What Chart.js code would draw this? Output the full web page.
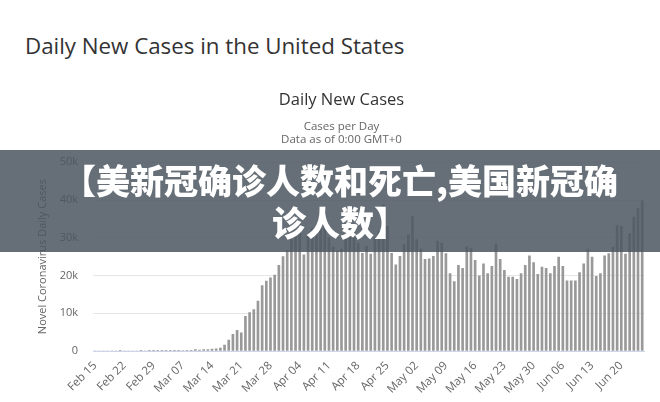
<!DOCTYPE html>
<html>
<head>
<meta charset="utf-8">
<script src="https://cdn.jsdelivr.net/npm/chart.js@4.4.0/dist/chart.umd.min.js"></script>
<style>
  body { margin: 0; width: 660px; height: 402px; overflow: hidden; position: relative; background: #fff; font-family: "Open Sans", sans-serif; }
  #pageTitle { position: absolute; left: 25px; top: 31px; font-size: 22.3px; line-height: 30px; color: #333; white-space: nowrap; }
  #wrap { position: absolute; left: 0; top: 80px; width: 660px; height: 322px; }
  #banner { position: absolute; left: 0; top: 150px; width: 660px; height: 102px; background: rgba(75, 86, 95, 0.85);
            box-sizing: border-box; padding: 9px 0 0 20px; text-align: center; color: #fff; white-space: nowrap;
            font-family: "Noto Sans CJK SC", sans-serif; font-weight: 900; font-size: 34px; line-height: 42px; }
</style>
</head>
<body>
<div id="pageTitle">Daily New Cases in the United States</div>
<div id="wrap"><canvas id="dailyCases"></canvas></div>
<div id="banner">【美新冠确诊人数和死亡,美国新冠确<br>诊人数】</div>

<script>
// ticks shown on the x axis (one every week)
var tickLabels = ["Feb 15", "Feb 22", "Feb 29", "Mar 07", "Mar 14", "Mar 21", "Mar 28", "Apr 04", "Apr 11",
                  "Apr 18", "Apr 25", "May 02", "May 09", "May 16", "May 23", "May 30", "Jun 06", "Jun 13", "Jun 20"];
var yTicks = [0, 10000, 20000, 30000, 40000, 50000];

// daily new cases, Feb 15 .. Jun 25
var febCases = [0, 0, 0, 0, 0, 0, 2, 0, 0, 0, 0, 1, 0, 2, 8];
var marCases = [7, 23, 20, 31, 68, 45, 140, 116, 65, 378, 270, 350, 400, 500, 600, 800,
                1600, 2900, 4400, 5500, 4800, 9200, 10200, 11000, 13200, 17300, 18500, 19400, 20100, 22700, 25000];
var aprCases = [26700, 29500, 31000, 33500, 25500, 30500, 32500, 33000, 34500, 33500, 30000, 27500, 26600, 27000, 29500,
                30800, 31500, 28600, 25900, 27700, 25700, 29900, 31700, 38700, 33000, 25900, 22800, 25100, 28200, 30800];
var mayCases = [35600, 29500, 27000, 24300, 24400, 25100, 29100, 28600, 25800, 20500, 18400, 22700, 21900, 27600, 27100, 24000,
                19900, 23100, 20500, 22400, 28400, 24300, 21400, 19600, 19600, 19000, 20500, 22700, 25200, 23400, 20300];
var junCases = [22200, 21900, 20500, 22400, 24900, 22400, 18600, 18600, 18600, 20800, 23100, 27000, 24900,
                19800, 20500, 25200, 25800, 27500, 33200, 33000, 25700, 31100, 35500, 37800, 39700];

var cases = febCases.concat(marCases, aprCases, mayCases, junCases);

// one category per day
var months = ["Jan", "Feb", "Mar", "Apr", "May", "Jun", "Jul"];
var days = [];
var d = new Date(2020, 1, 15);
for (var i = 0; i < cases.length; i++) {
  days.push(months[d.getMonth()] + " " + String(d.getDate()).padStart(2, "0"));
  d.setDate(d.getDate() + 1);
}

new Chart("dailyCases", {
  type: "bar",
  data: {
    labels: days,
    datasets: [{
      data: cases,
      backgroundColor: "#999999",
      barThickness: 2
    }]
  },
  options: {
    responsive: true,
    maintainAspectRatio: false,
    animation: false,
    layout: { padding: { left: 36, right: 13, top: 0, bottom: 0 } },
    plugins: {
      legend: { display: false },
      tooltip: { enabled: false },
      title: {
        display: true, text: "Daily New Cases", color: "#333",
        font: { family: "Open Sans", size: 16.5, weight: "normal" },
        padding: { top: 10, bottom: 8 }
      },
      subtitle: {
        display: true, text: ["Cases per Day", "Data as of 0:00 GMT+0"], color: "#666",
        font: { family: "Open Sans", size: 11.5, lineHeight: 1.15 },
        padding: { top: 2, bottom: 16 }
      }
    },
    scales: {
      x: {
        offset: true,
        afterFit: function(s) { s.height = 51; },
        grid: { display: false, drawTicks: false },
        border: { color: "#ccd6eb" },
        ticks: {
          autoSkip: false, minRotation: 45, maxRotation: 45, padding: 8,
          color: "#666", font: { family: "Open Sans", size: 11.5 },
          callback: function(v, i) {
            var lab = days[i];
            return tickLabels.indexOf(lab) >= 0 ? lab : "";
          }
        }
      },
      y: {
        min: 0, max: 50000,
        afterBuildTicks: function(s) { s.ticks = yTicks.map(function(v) { return { value: v }; }); },
        afterFit: function(s) { s.width = 57; },
        grid: {
          drawTicks: false,
          color: function(c) { return c.tick && c.tick.value === 0 ? "#ccd6eb" : "#e6e6e6"; }
        },
        border: { display: false },
        ticks: {
          padding: 15, color: "#666", font: { family: "Open Sans", size: 11 },
          callback: function(v) { return v === 0 ? "0" : (v / 1000) + "k"; }
        },
        title: {
          display: true, text: "Novel Coronavirus Daily Cases", color: "#666",
          font: { family: "Open Sans", size: 11 }, padding: 0
        }
      }
    }
  }
});
</script>
</body>
</html>
